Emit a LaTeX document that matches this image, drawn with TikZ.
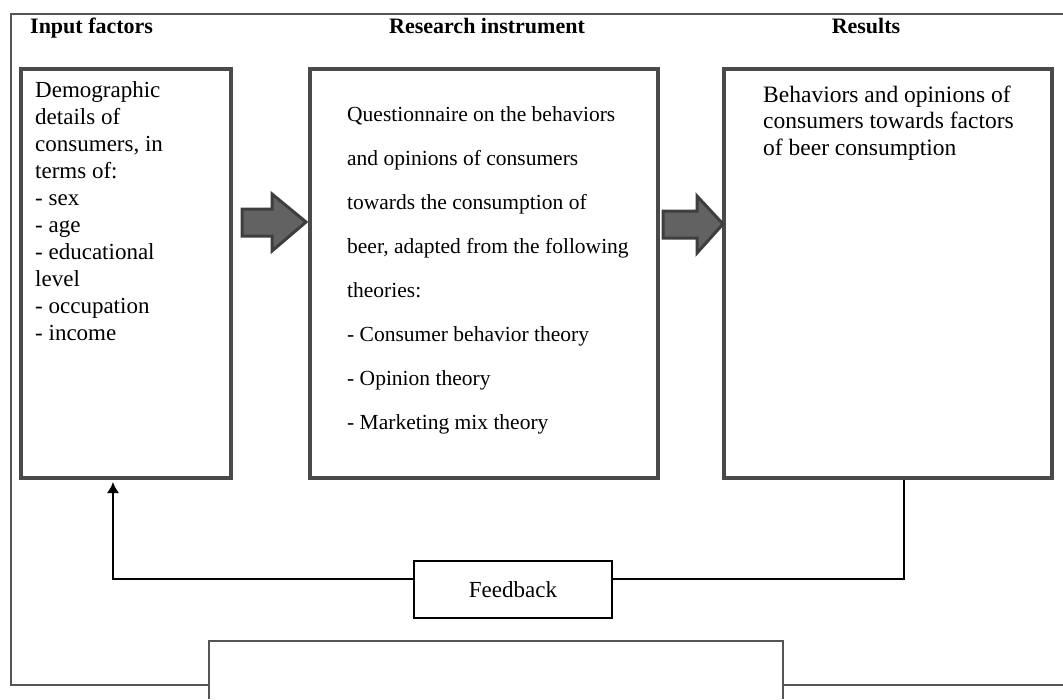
\documentclass[tikz,border=0pt]{standalone}
\usepackage{fontspec}
\setmainfont{Liberation Serif}
\usetikzlibrary{arrows.meta}
\begin{document}
\begin{tikzpicture}[x=1pt,y=-1pt,
  bigbox/.style={draw=boxgray, line width=4pt, rectangle, inner sep=0pt},
  fbbox/.style={draw=black, line width=1.5pt, rectangle, inner sep=0pt, font=\fontsize{23}{27}\selectfont},
  title/.style={font=\fontsize{22}{26}\selectfont\bfseries, inner sep=0pt},
  bodytxt/.style={align=left, inner sep=0pt, font=\fontsize{23}{26.9}\selectfont},
  fatarrow/.style={fill=arrowfill, draw=arrowdraw, line width=3pt, line join=miter},
  frame/.style={draw=framegray, line width=1.5pt},
  conn/.style={draw=black, line width=1.5pt}]
\definecolor{boxgray}{HTML}{4A4A4A}
\definecolor{arrowfill}{HTML}{626262}
\definecolor{arrowdraw}{HTML}{3E3E3E}
\definecolor{framegray}{HTML}{555555}
\useasboundingbox (0,0) rectangle (1063,699);
% outer frame
\coordinate (ftr) at (1063,14);
\coordinate (ftl) at (11,14);
\coordinate (fbl) at (11,685);
\coordinate (fbm) at (209,685);
\coordinate (fbn) at (783,685);
\coordinate (fbr) at (1063,685);
\draw[frame] (ftr) -- (ftl) -- (fbl) -- (fbm);
\draw[frame] (fbn) -- (fbr);
% bottom box (cut off)
\coordinate (bbl) at (209,699);
\coordinate (btl) at (209,641);
\coordinate (btr) at (783,641);
\coordinate (bbr) at (783,699);
\draw[frame] (bbl) -- (btl) -- (btr) -- (bbr);
% titles
\node[title, anchor=base west] (t1) at (30,33) {Input factors};
\node[title, anchor=base] (t2) at (487,33) {Research instrument};
\node[title, anchor=base] (t3) at (866,33) {Results};
% boxes
\node[bigbox, minimum width=210pt, minimum height=409pt] (inbox) at (126,273.5) {};
\node[bigbox, minimum width=348pt, minimum height=409pt] (resbox) at (484,273.5) {};
\node[bigbox, minimum width=328pt, minimum height=409pt] (outbox) at (888,273.5) {};
% texts (base anchor = baseline of last line)
\node[bodytxt, anchor=base west] (intxt) at (35,340) {Demographic\\details of\\consumers, in\\terms of:\\- sex\\- age\\- educational\\level\\- occupation\\- income};
\node[bodytxt, anchor=base west, font=\fontsize{21.5}{43.9}\selectfont] (restxt) at (347,429) {Questionnaire on the behaviors\\and opinions of consumers\\towards the consumption of\\beer, adapted from the following\\theories:\\- Consumer behavior theory\\- Opinion theory\\- Marketing mix theory};
\node[bodytxt, anchor=base west, font=\fontsize{23.5}{26.7}\selectfont] (outtxt) at (763,155.4) {Behaviors and opinions of\\consumers towards factors\\of beer consumption};
% fat arrows
\draw[fatarrow] (242,209) -- (272,209) -- (272,194) -- (306,222) -- (272,251) -- (272,236) -- (242,236) -- cycle;
\draw[fatarrow] (663,211) -- (697,211) -- (697,196) -- (723,224) -- (697,253) -- (697,238) -- (663,238) -- cycle;
% feedback
\node[fbbox, minimum width=198pt, minimum height=57pt] (fb) at (513,589.5) {Feedback};
\coordinate (c1) at (904,579);
\coordinate (c2) at (113,579);
\draw[conn] (outbox.south -| c1) -- (c1) -- (fb.east |- c1);
\draw[conn, -{Latex[length=11pt,width=12pt]}, shorten >=2pt] (fb.west |- c2) -- (c2) -- (c2 |- inbox.south);
\end{tikzpicture}
\end{document}
